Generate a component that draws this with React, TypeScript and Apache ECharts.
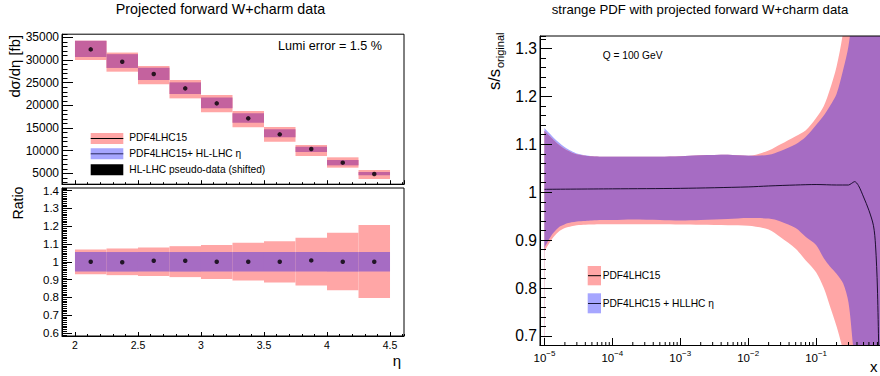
import React, { useEffect, useRef } from 'react';
import * as echarts from 'echarts';

const FONT = '"Liberation Sans", Arial, Helvetica, sans-serif';

// ---------- Left panel: eta bins ----------
const etaLow = [2.0, 2.25, 2.5, 2.75, 3.0, 3.25, 3.5, 3.75, 4.0, 4.25];
const etaHigh = [2.25, 2.5, 2.75, 3.0, 3.25, 3.5, 3.75, 4.0, 4.25, 4.5];
const etaMid = [2.125, 2.375, 2.625, 2.875, 3.125, 3.375, 3.625, 3.875, 4.125, 4.375];

// d sigma / d eta [fb]
const xsecPseudo = [32350, 29630, 26910, 23750, 20440, 17130, 13600, 10370, 7350, 4850];
const xsecPdfLow = [30000, 27430, 24630, 21540, 18460, 15150, 11985, 8820, 6250, 3750];
const xsecPdfHigh = [34265, 31650, 28680, 25590, 22280, 18750, 15220, 11250, 8530, 5735];
const xsecHlLow = [30650, 28250, 25590, 22500, 19340, 16180, 12940, 9710, 6760, 4560];
const xsecHlHigh = [34265, 31300, 28310, 25070, 21750, 18240, 14710, 10880, 7940, 5290];

// ratio
const ratioPseudo = [1.0, 0.998, 1.006, 1.006, 1.0, 1.0, 1.0, 1.008, 1.0, 1.0];
const ratioPdfLow = [0.930, 0.925, 0.921, 0.914, 0.904, 0.895, 0.884, 0.867, 0.840, 0.797];
const ratioPdfHigh = [1.069, 1.075, 1.081, 1.088, 1.094, 1.107, 1.116, 1.135, 1.163, 1.207];
const ratioHlLow = [0.945, 0.945, 0.945, 0.945, 0.945, 0.945, 0.945, 0.945, 0.945, 0.945];
const ratioHlHigh = [1.055, 1.055, 1.055, 1.055, 1.055, 1.055, 1.055, 1.055, 1.055, 1.055];

// ---------- Right panel: s/s_original vs x ----------
const xGrid = [1e-5, 1.3e-5, 1.6e-5, 2e-5, 2.5e-5, 3e-5, 4e-5, 5e-5, 7e-5, 1e-4, 2e-4, 5e-4, 1e-3, 2e-3, 5e-3, 1e-2, 2e-2, 3e-2, 5e-2, 7e-2, 0.1, 0.13, 0.16, 0.2, 0.25, 0.3, 0.35, 0.4, 0.5, 0.6, 0.7, 0.8, 0.9, 1.0];
const pdfUpper = [1.128, 1.112, 1.100, 1.090, 1.083, 1.079, 1.076, 1.075, 1.074, 1.074, 1.074, 1.074, 1.075, 1.077, 1.078, 1.076, 1.087, 1.100, 1.117, 1.129, 1.155, 1.180, 1.215, 1.262, 1.335, 1.440, 1.550, 1.650, 1.800, 1.950, 2.100, 2.250, 2.400, 2.500];
const pdfLower = [0.877, 0.903, 0.917, 0.925, 0.929, 0.931, 0.932, 0.9325, 0.933, 0.933, 0.933, 0.933, 0.9325, 0.932, 0.931, 0.930, 0.922, 0.906, 0.882, 0.858, 0.833, 0.800, 0.762, 0.720, 0.668, 0.600, 0.550, 0.500, 0.400, 0.350, 0.300, 0.250, 0.200, 0.150];
const hlUpper = [1.134, 1.117, 1.105, 1.094, 1.086, 1.081, 1.077, 1.075, 1.074, 1.074, 1.074, 1.074, 1.075, 1.077, 1.078, 1.076, 1.078, 1.086, 1.100, 1.115, 1.140, 1.160, 1.180, 1.205, 1.255, 1.305, 1.390, 1.500, 1.650, 1.800, 1.950, 2.100, 2.250, 2.400];
const hlLower = [0.884, 0.912, 0.926, 0.933, 0.937, 0.939, 0.940, 0.941, 0.942, 0.942, 0.943, 0.942, 0.941, 0.942, 0.944, 0.946, 0.945, 0.939, 0.925, 0.907, 0.890, 0.862, 0.845, 0.830, 0.810, 0.770, 0.680, 0.600, 0.500, 0.450, 0.400, 0.350, 0.300, 0.250];
const centralX = [1e-5, 1e-4, 1e-3, 1e-2, 2e-2, 5e-2, 0.1, 0.2, 0.3, 0.33, 0.37, 0.42, 0.5, 0.6, 0.7, 0.75, 0.8, 0.85];
const centralY = [1.006, 1.007, 1.008, 1.011, 1.013, 1.015, 1.016, 1.015, 1.015, 1.018, 1.022, 1.014, 0.990, 0.962, 0.930, 0.890, 0.800, 0.620];

// axis ranges
const L_X_MIN = 1.897, L_X_MAX = 4.611;
const T_Y_MIN = 2600, T_Y_MAX = 35700;
const B_Y_MIN = 0.583, B_Y_MAX = 1.415;
const R_X_MIN = 8.6e-6, R_X_MAX = 1;
const R_Y_MIN = 0.68, R_Y_MAX = 1.326;

const C_PINK = '#ffa6a6';
const C_BLUE = '#a6a6ff';
const C_PURPLE = '#a66cc3';
const C_TOP_PURPLE = '#c4629e';

const logMinorTicks: number[] = [];
for (let e = -5; e < 0; e++) for (let k = 2; k <= 9; k++) logMinorTicks.push(k * Math.pow(10, e));

const blk = { color: '#000', width: 1 };

function valAxis(grid: number, min: number, max: number, split: number, tickLen: number, major: boolean, label: any, position: string) {
  return {
    type: 'value', gridIndex: grid, min, max, splitNumber: split, position, z: 10,
    axisLine: { show: major, onZero: false, lineStyle: blk },
    axisTick: { show: true, inside: true, length: tickLen, lineStyle: blk },
    minorTick: { show: false },
    splitLine: { show: false },
    axisLabel: label
      ? { show: true, color: '#000', fontFamily: FONT, showMinLabel: false, showMaxLabel: false, formatter: (v: number) => String(v), ...label }
      : { show: false },
  };
}

function boxSeries(name: string, xi: number, yi: number, lows: number[], highs: number[], color: string, z: number) {
  return {
    type: 'custom', name, xAxisIndex: xi, yAxisIndex: yi, z, silent: true,
    encode: { x: [0, 1], y: [2, 3] },
    data: etaLow.map((x0, i) => [x0, etaHigh[i], lows[i], highs[i]]),
    renderItem: (_p: any, api: any) => {
      const a = api.coord([api.value(0), api.value(3)]);
      const b = api.coord([api.value(1), api.value(2)]);
      return { type: 'rect', shape: { x: a[0], y: a[1], width: b[0] - a[0], height: b[1] - a[1] }, style: { fill: color } };
    },
  };
}

// A band between two curves is painted as layered areas, each filled from its curve down to the axis floor:
// the upper curves first (blue, pink, overlap purple), then the lower edges repaint below them.
function areaUnder(name: string, ys: number[], color: string, z: number) {
  return {
    type: 'line', name, xAxisIndex: 4, yAxisIndex: 4, z, silent: true, symbol: 'none', smooth: 0.3,
    lineStyle: { width: 0, opacity: 0 },
    areaStyle: { color, opacity: 1, origin: 'start' },
    data: xGrid.map((x, i) => [x, ys[i]]),
  };
}

const midLower = xGrid.map((_, i) => Math.max(pdfLower[i], hlLower[i]));
const midUpper = xGrid.map((_, i) => Math.min(pdfUpper[i], hlUpper[i]));

function txt(x: number, y: number, text: string, size: number, align = 'left', extra: any = {}) {
  return { type: 'text', x, y, z: 20, silent: true, ...extra, style: { text, fontSize: size, fontFamily: FONT, fill: '#000', align, verticalAlign: 'middle' } };
}

function buildOption() {
  const gridCommon = { show: true, borderColor: '#000', borderWidth: 1, backgroundColor: 'transparent', z: 10, containLabel: false, outerBoundsMode: 'none' };
  return {
    animation: false,
    textStyle: { fontFamily: FONT },
    grid: [
      { ...gridCommon, left: 62, top: 34.2, width: 342, height: 150 },
      { ...gridCommon, left: 62, top: 188, width: 342, height: 148 },
      { ...gridCommon, left: 540, top: 36, right: -4, height: 309.5 },
    ],
    xAxis: [
      valAxis(0, L_X_MIN, L_X_MAX, 5, 4, true, null, 'bottom'),
      valAxis(0, L_X_MIN, L_X_MAX, 25, 2, false, null, 'bottom'),
      valAxis(1, L_X_MIN, L_X_MAX, 5, 4, true, { fontSize: 10.5, margin: 3 }, 'bottom'),
      valAxis(1, L_X_MIN, L_X_MAX, 25, 2, false, null, 'bottom'),
      {
        type: 'log', logBase: 10, gridIndex: 2, min: R_X_MIN, max: R_X_MAX, position: 'bottom', z: 10,
        axisLine: { show: true, onZero: false, lineStyle: blk },
        axisTick: { show: true, inside: true, length: 7.5, lineStyle: blk },
        splitLine: { show: false },
        axisLabel: {
          show: true, margin: 4, showMinLabel: false, showMaxLabel: false, color: '#000',
          formatter: (v: number) => {
            const lg = Math.log10(v);
            const e = Math.round(lg);
            if (Math.abs(lg - e) > 1e-6) return '';
            return '{b|10}{s|' + (e < 0 ? '\u2212' + Math.abs(e) : String(e)) + '}';
          },
          rich: {
            b: { fontSize: 11.5, fontFamily: FONT, color: '#000', lineHeight: 16 },
            s: { fontSize: 8, fontFamily: FONT, color: '#000', verticalAlign: 'top', lineHeight: 8 },
          },
        },
      },
    ],
    yAxis: [
      valAxis(0, T_Y_MIN, T_Y_MAX, 6, 11, true, { fontSize: 12, margin: 3 }, 'left'),
      valAxis(0, T_Y_MIN, T_Y_MAX, 30, 5.5, false, null, 'left'),
      valAxis(1, B_Y_MIN, B_Y_MAX, 8, 10, true, { fontSize: 11.5, margin: 3 }, 'left'),
      valAxis(1, B_Y_MIN, B_Y_MAX, 80, 5, false, null, 'left'),
      valAxis(2, R_Y_MIN, R_Y_MAX, 6, 12, true, { fontSize: 15.6, margin: 3 }, 'left'),
      valAxis(2, R_Y_MIN, R_Y_MAX, 32, 6, false, null, 'left'),
    ],
    series: [
      boxSeries('PDF4LHC15', 0, 0, xsecPdfLow, xsecPdfHigh, C_PINK, 2),
      boxSeries('PDF4LHC15+ HL-LHC η', 0, 0, xsecHlLow, xsecHlHigh, C_TOP_PURPLE, 3),
      {
        type: 'scatter', name: 'HL-LHC pseudo-data (shifted)', xAxisIndex: 0, yAxisIndex: 0, z: 5, silent: true,
        symbol: 'circle', symbolSize: 4.5, itemStyle: { color: '#000' },
        data: etaMid.map((x, i) => [x, xsecPseudo[i]]),
      },
      boxSeries('PDF4LHC15 ratio', 2, 2, ratioPdfLow, ratioPdfHigh, C_PINK, 2),
      boxSeries('HL-LHC ratio', 2, 2, ratioHlLow, ratioHlHigh, C_PURPLE, 3),
      {
        type: 'scatter', name: 'pseudo-data ratio', xAxisIndex: 2, yAxisIndex: 2, z: 5, silent: true,
        symbol: 'circle', symbolSize: 4.5, itemStyle: { color: '#000' },
        data: etaMid.map((x, i) => [x, ratioPseudo[i]]),
      },
      areaUnder('PDF4LHC15 + HLLHC upper', hlUpper, C_BLUE, 2),
      areaUnder('PDF4LHC15 upper', pdfUpper, C_PINK, 3),
      areaUnder('overlap upper', midUpper, C_PURPLE, 4),
      areaUnder('overlap lower', midLower, C_PINK, 5),
      areaUnder('PDF4LHC15 lower', pdfLower, '#ffffff', 6),
      {
        type: 'line', name: 'central', xAxisIndex: 4, yAxisIndex: 4, z: 7, silent: true,
        symbol: 'none', smooth: 0.3, lineStyle: { color: '#1c0e30', width: 1 },
        data: centralX.map((x, i) => [x, centralY[i]]),
      },
      {
        type: 'custom', name: 'log minor ticks', xAxisIndex: 4, yAxisIndex: 4, z: 12, silent: true,
        data: logMinorTicks.map((x) => [x, R_Y_MIN]),
        renderItem: (_p: any, api: any) => {
          const p = api.coord([api.value(0), api.value(1)]);
          return { type: 'line', shape: { x1: p[0], y1: p[1], x2: p[0], y2: p[1] - 3.5 }, style: { stroke: '#000', lineWidth: 1 } };
        },
      },
    ],
    graphic: [
      txt(220.5, 9, 'Projected forward W+charm data', 14.3, 'center'),
      txt(700, 9, 'strange PDF with projected forward W+charm data', 13.2, 'center'),
      txt(278, 46, 'Lumi error = 1.5 %', 12.6),
      txt(15, 35, 'dσ/dη [fb]', 14.8, 'right', { rotation: Math.PI / 2 }),
      txt(18, 203, 'Ratio', 14.1, 'center', { rotation: Math.PI / 2 }),
      txt(397, 360, 'η', 15, 'center'),
      txt(870, 366, 'x', 15),
      txt(602.7, 55, 'Q = 100 GeV', 10.2),
      txt(494, 90, 's/s', 16.5, 'left', { rotation: Math.PI / 2 }),
      txt(500, 68, 'original', 11, 'left', { rotation: Math.PI / 2 }),
      // left legend
      { type: 'rect', z: 20, silent: true, shape: { x: 90.7, y: 133, width: 32.6, height: 11 }, style: { fill: C_PINK } },
      { type: 'line', z: 21, silent: true, shape: { x1: 90.7, y1: 138.5, x2: 123.3, y2: 138.5 }, style: { stroke: '#000', lineWidth: 1 } },
      { type: 'rect', z: 20, silent: true, shape: { x: 90.7, y: 148.3, width: 32.6, height: 11 }, style: { fill: C_BLUE } },
      { type: 'line', z: 21, silent: true, shape: { x1: 90.7, y1: 153.8, x2: 123.3, y2: 153.8 }, style: { stroke: '#2a2a5e', lineWidth: 1 } },
      { type: 'rect', z: 20, silent: true, shape: { x: 90.7, y: 164.3, width: 32.6, height: 11 }, style: { fill: '#000' } },
      txt(129.3, 137.8, 'PDF4LHC15', 10.2),
      txt(129.3, 153.5, 'PDF4LHC15+ HL-LHC η', 10.2),
      txt(129.3, 169.8, 'HL-LHC pseudo-data (shifted)', 10.2),
      // right legend
      { type: 'rect', z: 20, silent: true, shape: { x: 587.7, y: 266, width: 13.3, height: 19.3 }, style: { fill: C_PINK } },
      { type: 'line', z: 21, silent: true, shape: { x1: 588, y1: 275.7, x2: 601, y2: 275.7 }, style: { stroke: '#000', lineWidth: 1 } },
      { type: 'rect', z: 20, silent: true, shape: { x: 587.7, y: 293.3, width: 13.3, height: 20 }, style: { fill: C_BLUE } },
      { type: 'line', z: 21, silent: true, shape: { x1: 588, y1: 303.5, x2: 601, y2: 303.5 }, style: { stroke: '#1a1a3a', lineWidth: 1 } },
      txt(602.7, 275.5, 'PDF4LHC15', 10.2),
      txt(602.7, 303.5, 'PDF4LHC15 + HLLHC η', 10.2),
    ],
  };
}

export default function App() {
  const ref = useRef<HTMLDivElement>(null);
  useEffect(() => {
    if (!ref.current) return;
    const chart = echarts.init(ref.current, null, { renderer: 'svg' });
    chart.setOption(buildOption() as any);
    return () => chart.dispose();
  }, []);
  return <div ref={ref} style={{ position: 'absolute', left: 0, top: 0, width: 880, height: 376, background: '#fff' }} />;
}
